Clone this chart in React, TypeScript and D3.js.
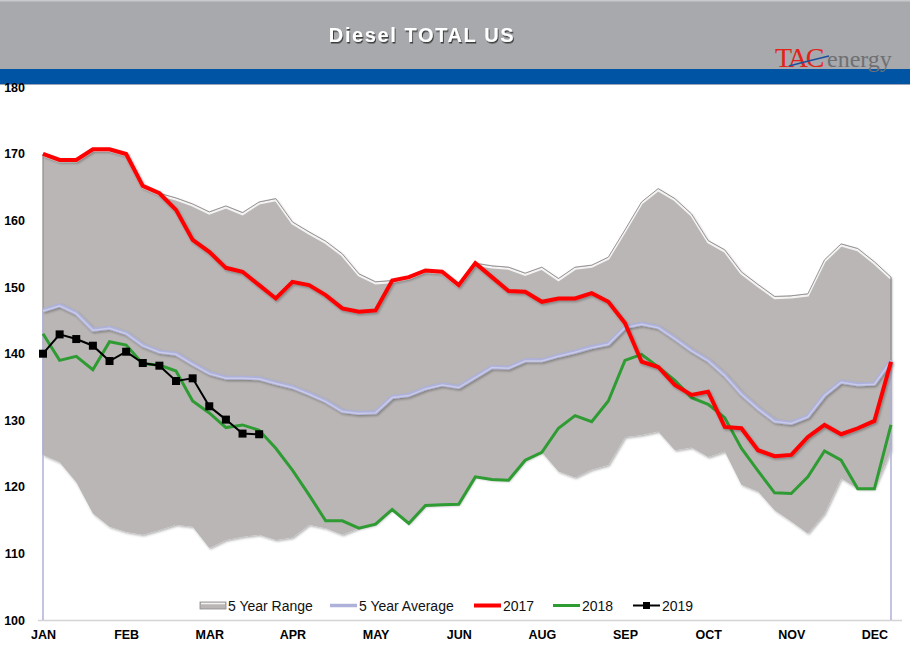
import React, { useRef, useEffect } from "react";
import * as d3 from "d3";

// weekly values (52 weeks)
const monthLabels = ["JAN", "FEB", "MAR", "APR", "MAY", "JUN", "AUG", "SEP", "OCT", "NOV", "DEC"];
const yTicks = [100, 110, 120, 130, 140, 150, 160, 170, 180];

const rangeHigh = [
  170, 169.1, 169.1, 170.7, 170.7, 170, 165.2, 164.1, 163.4, 162.5, 161.3, 162.2, 161.2, 162.8,
  163.3, 159.8, 158.3, 156.9, 155, 152, 150.8, 151, 151.5, 152.5, 152.3, 150.3, 153.6, 153.2,
  153, 152.1, 153, 151.3, 153, 153.3, 154.5, 158.6, 162.8, 164.8, 163.3, 161, 157, 155.6, 152.3,
  150.4, 148.6, 148.7, 149, 154.1, 156.5, 155.8, 153.8, 151.5,
];
const rangeLow = [
  124.8, 123.7, 120.7, 116, 114, 113.2, 112.8, 113.5, 114.3, 114, 110.8, 112, 112.5, 112.8, 112,
  112.4, 114.3, 113.8, 112.8, 113.8, 114.4, 116.6, 114.5, 117.2, 117.3, 117.4, 121.5, 121.1, 121,
  124, 125.2, 122.3, 121.4, 122.6, 123.3, 127.5, 127.8, 128.3, 125.5, 125.9, 124.5, 125.3, 120.3,
  119.3, 116.5, 114.8, 113, 116, 121.3, 119.7, 119.7, 125.5,
];
const avg5 = [
  146.5, 147.3, 146.1, 143.6, 143.9, 143.1, 141.3, 140.3, 140, 138.5, 137.1, 136.4, 136.4, 136.3,
  135.6, 135, 134, 132.9, 131.4, 131.1, 131.2, 133.5, 133.8, 134.8, 135.4, 135, 136.5, 138, 137.9,
  139, 139, 139.7, 140.3, 141, 141.5, 144, 144.5, 144, 142.3, 140.5, 139, 136.8, 134, 131.8, 129.9,
  129.6, 130.6, 133.8, 135.8, 135.4, 135.5, 139,
];
const y2017 = [
  170, 169.1, 169.1, 170.7, 170.7, 170, 165.2, 164.1, 161.6, 157.1, 155.3, 152.9, 152.3, 150.3,
  148.3, 150.8, 150.3, 148.8, 146.8, 146.3, 146.5, 151, 151.5, 152.5, 152.3, 150.3, 153.6, 151.5,
  149.4, 149.3, 147.8, 148.3, 148.3, 149.1, 147.8, 144.6, 138.8, 138, 135.3, 133.8, 134.3, 129,
  128.8, 125.5, 124.6, 124.8, 127.5, 129.3, 127.9, 128.8, 129.9, 138.8,
];
const y2018 = [
  143, 139, 139.6, 137.6, 141.8, 141.3, 138.5, 138.3, 137.4, 132.9, 131.1, 128.9, 129.3, 128.5,
  125.8, 122.5, 118.8, 114.9, 114.9, 113.8, 114.4, 116.6, 114.5, 117.2, 117.3, 117.4, 121.5, 121.1,
  121, 124, 125.2, 128.8, 130.7, 129.8, 132.9, 139, 139.9, 138, 136, 133.4, 132.4, 130.4, 125.8,
  122.4, 119.1, 119, 121.5, 125.4, 124, 119.7, 119.7, 129.3,
];
const y2019 = [140, 142.9, 142.2, 141.2, 138.9, 140.3, 138.6, 138.2, 135.9, 136.3, 132.1, 130.1, 128, 127.9];

const App: React.FC = () => {
  const svgRef = useRef<SVGSVGElement>(null);

  useEffect(() => {
    document.body.style.margin = "0";
    if (!svgRef.current) return;
    const width = 910;
    const height = 659;
    const svg = d3.select(svgRef.current).attr("width", width).attr("height", height);
    svg.selectAll("*").remove();

    const x = d3.scaleLinear().domain([0, rangeHigh.length - 1]).range([43, 891]);
    const y = d3.scaleLinear().domain([100, 180]).range([620, 87.4]);

    const defs = svg.append("defs");
    defs
      .append("filter")
      .attr("id", "shadow")
      .attr("x", "-5%")
      .attr("y", "-5%")
      .attr("width", "110%")
      .attr("height", "110%")
      .append("feDropShadow")
      .attr("dx", 1.2)
      .attr("dy", 1.5)
      .attr("stdDeviation", 0.9)
      .attr("flood-color", "#000")
      .attr("flood-opacity", 0.3);
    defs
      .append("filter")
      .attr("id", "titleShadow")
      .append("feDropShadow")
      .attr("dx", 1)
      .attr("dy", 1.5)
      .attr("stdDeviation", 0.7)
      .attr("flood-color", "#222")
      .attr("flood-opacity", 0.8);

    svg.append("rect").attr("width", width).attr("height", height).attr("fill", "#fff");

    // header
    svg.append("rect").attr("x", 0).attr("y", 0).attr("width", width).attr("height", 69).attr("fill", "#a7a9ac");
    svg.append("rect").attr("x", 0).attr("y", 0).attr("width", width).attr("height", 1.5).attr("fill", "#c8c9cb");
    svg.append("rect").attr("x", 0).attr("y", 69).attr("width", width).attr("height", 15).attr("fill", "#0054a4");
    svg.append("rect").attr("x", 0).attr("y", 84).attr("width", width).attr("height", 1).attr("fill", "#9aa4b6");
    svg
      .append("text")
      .attr("x", 422)
      .attr("y", 42)
      .attr("text-anchor", "middle")
      .attr("font-family", "Liberation Sans, Arial, sans-serif")
      .attr("font-weight", "bold")
      .attr("font-size", 20)
      .attr("letter-spacing", 1.6)
      .attr("fill", "#fff")
      .attr("filter", "url(#titleShadow)")
      .text("Diesel TOTAL US");

    // logo
    const logo = svg.append("g").attr("font-family", "Liberation Serif, Times New Roman, serif");
    logo
      .append("text")
      .attr("x", 775)
      .attr("y", 67)
      .attr("font-size", 28)
      .attr("letter-spacing", -2.2)
      .attr("fill", "#e2231a")
      .text("TAC");
    logo
      .append("text")
      .attr("x", 827)
      .attr("y", 67)
      .attr("font-size", 24)
      .attr("fill", "#6f7073")
      .text("energy");
    logo
      .append("path")
      .attr("d", "M789,66 Q808,61 829,56")
      .attr("fill", "none")
      .attr("stroke", "#1d4f9e")
      .attr("stroke-width", 1.6);

    // plot frame (bottom)
    svg
      .append("line")
      .attr("x1", 38)
      .attr("x2", 902)
      .attr("y1", y(100) + 0.5)
      .attr("y2", y(100) + 0.5)
      .attr("stroke", "#d4d4d4")
      .attr("stroke-width", 1.5);

    // 5 year range area
    const idx = d3.range(rangeHigh.length);
    const area = d3
      .area<number>()
      .x((i) => x(i))
      .y0((i) => y(rangeLow[i]))
      .y1((i) => y(rangeHigh[i]));
    svg.append("path").datum(idx).attr("d", area).attr("fill", "#bab6b6").attr("filter", "url(#shadow)");

    const topLine = d3
      .line<number>()
      .x((i) => x(i))
      .y((i) => y(rangeHigh[i]));
    svg
      .append("path")
      .datum(idx)
      .attr("d", topLine)
      .attr("fill", "none")
      .attr("stroke", "#f4f2f2")
      .attr("stroke-width", 2.2)
      .attr("transform", "translate(0,1.6)");
    svg
      .append("path")
      .datum(idx)
      .attr("d", topLine)
      .attr("fill", "none")
      .attr("stroke", "#8e8b8b")
      .attr("stroke-width", 0.9);
    const last = rangeHigh.length - 1;
    [0, last].forEach((i) => {
      svg
        .append("line")
        .attr("x1", x(i))
        .attr("x2", x(i))
        .attr("y1", y(rangeHigh[i]))
        .attr("y2", y(rangeLow[i]))
        .attr("stroke", "#8e8b8b")
        .attr("stroke-width", 1.2);
    });

    const line = (data: number[]) =>
      d3
        .line<number>()
        .x((_, i) => x(i))
        .y((d) => y(d))(data);

    // 5 year average, with the drop to the floor at both ends
    [0, avg5.length - 1].forEach((i) => {
      svg
        .append("line")
        .attr("x1", x(i))
        .attr("x2", x(i))
        .attr("y1", y(avg5[i]))
        .attr("y2", y(100))
        .attr("stroke", "#b3b5db")
        .attr("stroke-width", 1.6);
    });
    svg
      .append("path")
      .attr("d", line(avg5))
      .attr("fill", "none")
      .attr("stroke", "#aeb1da")
      .attr("stroke-width", 4)
      .attr("stroke-linejoin", "round")
      .attr("filter", "url(#shadow)");
    svg
      .append("path")
      .attr("d", line(avg5))
      .attr("fill", "none")
      .attr("stroke", "#c9cbe8")
      .attr("stroke-width", 1.5)
      .attr("transform", "translate(0,0.6)");

    svg
      .append("path")
      .attr("d", line(y2018))
      .attr("fill", "none")
      .attr("stroke", "#2e9b33")
      .attr("stroke-width", 3);

    svg
      .append("path")
      .attr("d", line(y2017))
      .attr("fill", "none")
      .attr("stroke", "#ff0000")
      .attr("stroke-width", 4)
      .attr("filter", "url(#shadow)");

    svg
      .append("path")
      .attr("d", line(y2019))
      .attr("fill", "none")
      .attr("stroke", "#000")
      .attr("stroke-width", 2);
    svg
      .append("g")
      .selectAll("rect")
      .data(y2019)
      .enter()
      .append("rect")
      .attr("x", (_, i) => x(i) - 4)
      .attr("y", (d) => y(d) - 4)
      .attr("width", 8)
      .attr("height", 8)
      .attr("fill", "#000");

    // axes
    const yAxis = svg
      .append("g")
      .attr("transform", "translate(29,0)")
      .call(d3.axisLeft(y).tickValues(yTicks).tickSize(0).tickPadding(4).tickFormat(d3.format("d")));
    yAxis.select(".domain").remove();
    yAxis
      .selectAll("text")
      .attr("font-family", "Liberation Sans, Arial, sans-serif")
      .attr("font-weight", "bold")
      .attr("font-size", 12.5)
      .attr("fill", "#000");

    const xAxis = svg
      .append("g")
      .attr("transform", `translate(0,${y(100)})`)
      .call(
        d3
          .axisBottom(x)
          .tickValues(monthLabels.map((_, i) => i * 5))
          .tickSize(0)
          .tickPadding(10)
          .tickFormat((_, i) => monthLabels[i])
      );
    xAxis.select(".domain").remove();
    xAxis
      .selectAll("text")
      .attr("font-family", "Liberation Sans, Arial, sans-serif")
      .attr("font-weight", "bold")
      .attr("font-size", 12.5)
      .attr("fill", "#000");

    // legend
    const lg = svg
      .append("g")
      .attr("font-family", "Liberation Sans, Arial, sans-serif")
      .attr("font-size", 14)
      .attr("fill", "#111");
    const ly = 605.5;
    lg.append("rect").attr("x", 200).attr("y", ly - 3.5).attr("width", 26).attr("height", 7).attr("fill", "#bab6b6").attr("stroke", "#8e8b8b").attr("stroke-width", 0.8);
    lg.append("line").attr("x1", 201).attr("x2", 225).attr("y1", ly - 2).attr("y2", ly - 2).attr("stroke", "#f4f2f2").attr("stroke-width", 1.5);
    lg.append("text").attr("x", 228).attr("y", ly + 5).text("5 Year Range");
    const items = [
      { x: 330, color: "#aeb1da", w: 3.5, label: "5 Year Average" },
      { x: 474, color: "#ff0000", w: 4, label: "2017" },
      { x: 553, color: "#2e9b33", w: 3, label: "2018" },
      { x: 633, color: "#000", w: 2, label: "2019" },
    ];
    items.forEach((it) => {
      lg.append("line")
        .attr("x1", it.x)
        .attr("x2", it.x + 27)
        .attr("y1", ly)
        .attr("y2", ly)
        .attr("stroke", it.color)
        .attr("stroke-width", it.w);
      lg.append("text").attr("x", it.x + 29).attr("y", ly + 5).text(it.label);
    });
    lg.append("rect").attr("x", 643).attr("y", ly - 3.5).attr("width", 7).attr("height", 7).attr("fill", "#000");

    return () => {
      svg.selectAll("*").remove();
    };
  }, []);

  return <svg ref={svgRef} style={{ display: "block" }}></svg>;
};

export default App;
